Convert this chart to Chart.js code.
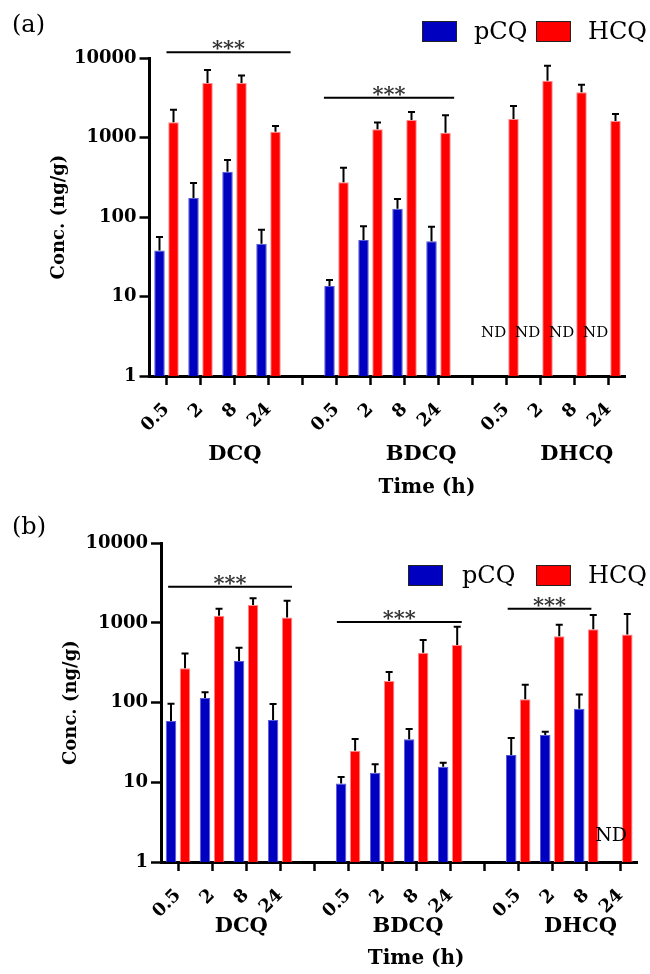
<!DOCTYPE html>
<html>
<head>
<meta charset="utf-8">
<script src="https://cdn.jsdelivr.net/npm/chart.js@4.4.1/dist/chart.umd.min.js"></script>
<style>
  body { margin: 0; background: #fff; }
  .panel { position: absolute; left: 0; width: 650px; }
</style>
</head>
<body>
<div class="panel" style="top:0;height:500px"><canvas id="chartA"></canvas></div>
<div class="panel" style="top:500px;height:474px"><canvas id="chartB"></canvas></div>
<script>
// categories: 4 time points per compound, empty slot between compounds
const timeLabels = ['0.5', '2', '8', '24', '', '0.5', '2', '8', '24', '', '0.5', '2', '8', '24'];
const groupNames = ['DCQ', 'BDCQ', 'DHCQ'];
const seriesNames = ['pCQ', 'HCQ'];
const yTicks = [1, 10, 100, 1000, 10000];

// (a) means and SD, ng/g
const pcqA   = [38, 173, 371, 46, null, 13.6, 51.5, 127, 49.5, null, null, null, null, null];
const pcqSdA = [18, 95, 150, 23, null, 2.5, 25, 41, 26, null, null, null, null, null];
const hcqA   = [1550, 4850, 4850, 1180, null, 273, 1270, 1660, 1150, null, 1710, 5190, 3700, 1610];
const hcqSdA = [690, 2220, 1190, 215, null, 144, 270, 430, 750, null, 780, 2810, 910, 365];
const ndA = [10, 11, 12, 13];   // pCQ not detected
const sigA = [
  { from: 0, to: 3.65, value: 11800 },
  { from: 4.63, to: 8.46, value: 3170 },
];

// (b)
const pcqB   = [58.8, 114, 333, 60.5, null, 9.7, 13.2, 34.6, 15.7, null, 22, 39.2, 84, null];
const pcqSdB = [38, 21, 156, 36, null, 2, 3.7, 12, 1.9, null, 14, 4, 43, null];
const hcqB   = [270, 1232, 1678, 1175, null, 24.9, 187, 423, 528, null, 110, 679, 832, 719];
const hcqSdB = [145, 275, 358, 725, null, 10, 55, 187, 368, null, 58, 270, 424, 575];
const ndB = [13];
const sigB = [
  { from: -0.29, to: 3.35, value: 2845 },
  { from: 4.67, to: 8.34, value: 1026 },
  { from: 9.69, to: 12.15, value: 1507 },
];

const blue = '#0000c0';
const red = '#ff0000';
const serif = 'DejaVu Serif';

const annotate = {
  id: 'annotate',
  afterDatasetsDraw(chart, args, o) {
    const { ctx } = chart;
    const xs = chart.scales.x, ys = chart.scales.y;
    const bottom = chart.chartArea.bottom;
    ctx.save();

    // error bars (upper only)
    o.errors.forEach((sd, i) => {
      const vals = chart.data.datasets[i].data;
      chart.getDatasetMeta(i).data.forEach((bar, j) => {
        if (vals[j] == null || sd[j] == null) return;
        const top = ys.getPixelForValue(vals[j] + sd[j]);
        ctx.strokeStyle = '#000';
        ctx.lineWidth = 2;
        ctx.beginPath();
        ctx.moveTo(bar.x, bar.y);
        ctx.lineTo(bar.x, top);
        ctx.moveTo(bar.x - 3.5, top);
        ctx.lineTo(bar.x + 3.5, top);
        ctx.stroke();
      });
    });

    // ND labels, right of them sits the HCQ bar
    const hcqMeta = chart.getDatasetMeta(1);
    ctx.fillStyle = '#000';
    ctx.font = o.ndSize + 'px "' + serif + '"';
    ctx.textAlign = 'right';
    ctx.textBaseline = 'middle';
    o.nd.forEach(j => {
      const bar = hcqMeta.data[j];
      ctx.fillText('ND', bar.x - bar.width / 2 + o.ndDx, ys.getPixelForValue(o.ndValue));
    });

    // significance lines
    o.sig.forEach(s => {
      const x1 = xs.getPixelForValue(s.from), x2 = xs.getPixelForValue(s.to);
      const yy = ys.getPixelForValue(s.value);
      ctx.strokeStyle = '#000';
      ctx.lineWidth = 2;
      ctx.beginPath();
      ctx.moveTo(x1, yy);
      ctx.lineTo(x2, yy);
      ctx.stroke();
      ctx.fillStyle = '#333';
      ctx.font = 'bold 21px "' + serif + '"';
      ctx.textAlign = 'center';
      ctx.textBaseline = 'alphabetic';
      const cx = (x1 + x2) / 2;
      [-11, 0, 11].forEach(d => ctx.fillText('*', cx + d, yy + 3));
    });

    // compound names and x title
    ctx.fillStyle = '#000';
    ctx.textAlign = 'center';
    ctx.textBaseline = 'middle';
    ctx.font = 'bold 21px "' + serif + '"';
    groupNames.forEach((g, k) => ctx.fillText(g, xs.getPixelForValue(o.groupPos[k]), bottom + o.groupDy));
    ctx.font = 'bold 20px "' + serif + '"';
    ctx.fillText('Time (h)', xs.getPixelForValue(o.timePos), bottom + o.timeDy);

    // legend
    ctx.font = '24px "' + serif + '"';
    ctx.textAlign = 'left';
    [blue, red].forEach((c, k) => {
      const lx = o.legendX[k];
      ctx.fillStyle = c;
      ctx.fillRect(lx, o.legendY, 35, 21);
      ctx.strokeStyle = '#222';
      ctx.lineWidth = 1;
      ctx.strokeRect(lx + 0.5, o.legendY + 0.5, 34, 20);
      ctx.fillStyle = '#000';
      ctx.fillText(seriesNames[k], lx + 35 + o.legendGap[k], o.legendY + 12);
    });

    // panel letter
    ctx.font = '24px "' + serif + '"';
    ctx.fillText(o.letter, 12, o.letterY);
    ctx.restore();
  }
};

function makeChart(id, pcq, hcq, L) {
  return new Chart(document.getElementById(id), {
    type: 'bar',
    data: {
      labels: timeLabels,
      datasets: [
        { label: seriesNames[0], data: pcq, backgroundColor: blue, borderColor: '#5a5ad6', borderWidth: 1 },
        { label: seriesNames[1], data: hcq, backgroundColor: red, borderColor: '#ff8c8c', borderWidth: 1 },
      ],
    },
    plugins: [annotate],
    options: {
      responsive: true,
      maintainAspectRatio: false,
      animation: false,
      events: [],
      categoryPercentage: 0.824,
      barPercentage: 0.75,
      layout: { padding: L.padding },
      plugins: {
        legend: { display: false },
        tooltip: { enabled: false },
        annotate: L.notes,
      },
      scales: {
        x: {
          ticks: {
            autoSkip: false, maxRotation: 45, minRotation: 45, padding: L.xPad,
            color: '#000', font: { family: serif, size: 18, weight: 'bold' },
          },
          grid: { drawOnChartArea: false, offset: false, tickLength: 9, tickWidth: 2.5, tickColor: '#000' },
          border: { color: '#000', width: 3 },
          afterFit: s => { s.height = L.xHeight; },
        },
        y: {
          type: 'logarithmic',
          min: 1,
          max: 10000,
          afterBuildTicks: s => { s.ticks = yTicks.map(v => ({ value: v })); },
          ticks: {
            padding: 3, color: '#000',
            font: { family: serif, size: 18, weight: 'bold' },
            callback: v => String(v),
          },
          grid: { drawOnChartArea: false, tickLength: 10, tickWidth: 2.5, tickColor: '#000' },
          border: { color: '#000', width: 3 },
          title: {
            display: true, text: 'Conc. (ng/g)', color: '#000',
            font: { family: serif, size: 18, weight: 'bold' },
            padding: { top: L.titlePad, bottom: 0 },
          },
          afterFit: s => { s.width = L.yWidth; },
        },
      },
    },
  });
}

makeChart('chartA', pcqA, hcqA, {
  padding: { top: 58, right: 24.5, bottom: 0, left: 0 },
  yWidth: 149.5, xHeight: 124, xPad: 14, titlePad: 49,
  notes: {
    errors: [pcqSdA, hcqSdA], nd: ndA, ndValue: 3.5, ndSize: 15, ndDx: -2, sig: sigA,
    groupPos: [2.01, 7.49, 12.07], groupDy: 79, timePos: 7.66, timeDy: 112,
    legendX: [422, 536], legendGap: [17, 17], legendY: 21, letter: '(a)', letterY: 26,
  },
});

makeChart('chartB', pcqB, hcqB, {
  padding: { top: 43.3, right: 12, bottom: 0, left: 0 },
  yWidth: 161, xHeight: 112, xPad: 14, titlePad: 61,
  notes: {
    errors: [pcqSdB, hcqSdB], nd: ndB, ndValue: 2.1, ndSize: 19, ndDx: 5, sig: sigB,
    groupPos: [1.86, 6.76, 11.83], groupDy: 65, timePos: 7.0, timeDy: 97,
    legendX: [408, 536], legendGap: [19, 17], legendY: 65, letter: '(b)', letterY: 28,
  },
});
</script>
</body>
</html>
